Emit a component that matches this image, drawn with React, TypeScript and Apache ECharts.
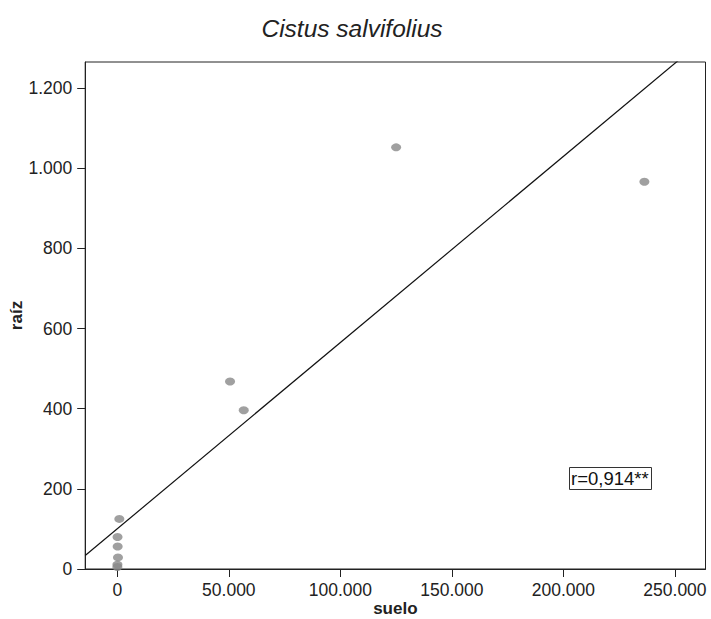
import React, { useEffect, useRef } from "react";
import * as echarts from "echarts";

const suelo = [900, 100, 150, 300, 50, 20, 50540, 56680, 125000, 236300];
const raiz = [125, 80, 56, 29, 11, 5, 468, 396, 1052, 966];
const xTicks = [0, 50000, 100000, 150000, 200000, 250000];
const yTicks = [0, 200, 400, 600, 800, 1000, 1200];
const titleText = "Cistus salvifolius";
const xName = "suelo";
const yName = "raíz";
const rLabel = "r=0,914**";

const X_MIN = -14400;
const X_MAX = 263700;
const Y_MIN = 0;
const Y_MAX = 1265;

const FONT = "'Liberation Sans', Arial, sans-serif";

function fmt(v: number): string {
  return String(Math.round(v)).replace(/\B(?=(\d{3})+(?!\d))/g, ".");
}

function ols(xs: number[], ys: number[]) {
  const n = xs.length;
  const mx = xs.reduce((a, b) => a + b, 0) / n;
  const my = ys.reduce((a, b) => a + b, 0) / n;
  let sxy = 0;
  let sxx = 0;
  for (let i = 0; i < n; i++) {
    sxy += (xs[i] - mx) * (ys[i] - my);
    sxx += (xs[i] - mx) * (xs[i] - mx);
  }
  const b = sxy / sxx;
  return { a: my - b * mx, b };
}

export default function App() {
  const ref = useRef<HTMLDivElement>(null);
  useEffect(() => {
    if (!ref.current) return;
    const chart = echarts.init(ref.current, undefined, { renderer: "svg" });
    const { a, b } = ols(suelo, raiz);
    const fitLine = [
      [X_MIN, a + b * X_MIN],
      [X_MAX, a + b * X_MAX],
    ];
    const axisColor = "#222";
    chart.setOption({
      animation: false,
      backgroundColor: "#fff",
      title: [
        {
          text: titleText,
          left: 352,
          top: 16,
          textAlign: "center",
          padding: 0,
          textStyle: {
            fontFamily: FONT,
            fontStyle: "italic",
            fontWeight: "normal",
            fontSize: 24.5,
            color: "#222",
          },
        },
        {
          text: rLabel,
          left: 569,
          top: 467,
          padding: [2, 3, 2, 2],
          borderColor: "#333",
          borderWidth: 1,
          textStyle: {
            fontFamily: FONT,
            fontWeight: "normal",
            fontSize: 18.5,
            lineHeight: 19,
            color: "#111",
          },
        },
      ],
      grid: {
        left: 85.2,
        top: 62,
        right: 5.5,
        bottom: 50,
        containLabel: false,
        outerBoundsMode: "none",
        show: true,
        borderColor: axisColor,
        borderWidth: 1,
        backgroundColor: "transparent",
      },
      xAxis: {
        type: "value",
        min: X_MIN,
        max: X_MAX,
        name: xName,
        nameLocation: "middle",
        nameMoveOverlap: false,
        nameGap: 33,
        nameTextStyle: {
          fontFamily: FONT,
          fontWeight: "bold",
          fontSize: 17,
          lineHeight: 13,
          verticalAlign: "top",
          color: "#222",
        },
        axisLine: { show: true, onZero: false, lineStyle: { color: axisColor, width: 1 } },
        axisTick: {
          show: true,
          length: 8,
          customValues: xTicks,
          lineStyle: { color: axisColor, width: 1 },
        },
        axisLabel: {
          customValues: xTicks,
          margin: 12,
          fontFamily: FONT,
          fontSize: 17.5,
          color: "#222",
          hideOverlap: false,
          formatter: (v: number) => fmt(v),
        },
        splitLine: { show: false },
      },
      yAxis: {
        type: "value",
        min: Y_MIN,
        max: Y_MAX,
        name: yName,
        nameLocation: "middle",
        nameRotate: 90,
        nameMoveOverlap: false,
        nameGap: 60,
        nameTextStyle: {
          fontFamily: FONT,
          fontWeight: "bold",
          fontSize: 17,
          color: "#222",
        },
        axisLine: { show: true, onZero: false, lineStyle: { color: axisColor, width: 1 } },
        axisTick: {
          show: true,
          length: 8,
          customValues: yTicks,
          lineStyle: { color: axisColor, width: 1 },
        },
        axisLabel: {
          customValues: yTicks,
          margin: 13,
          fontFamily: FONT,
          fontSize: 17.5,
          color: "#222",
          hideOverlap: false,
          formatter: (v: number) => fmt(v),
        },
        splitLine: { show: false },
      },
      series: [
        {
          type: "line",
          data: fitLine,
          symbol: "none",
          clip: true,
          silent: true,
          lineStyle: { color: "#111", width: 1.2 },
        },
        {
          type: "scatter",
          data: suelo.map((x, i) => [x, raiz[i]]),
          symbol: "circle",
          symbolSize: [10, 8],
          itemStyle: { color: "#888888" },
        },
      ],
    });
    return () => chart.dispose();
  }, []);
  return (
    <div
      ref={ref}
      style={{ position: "fixed", left: 0, top: 0, width: 711, height: 619 }}
    />
  );
}
